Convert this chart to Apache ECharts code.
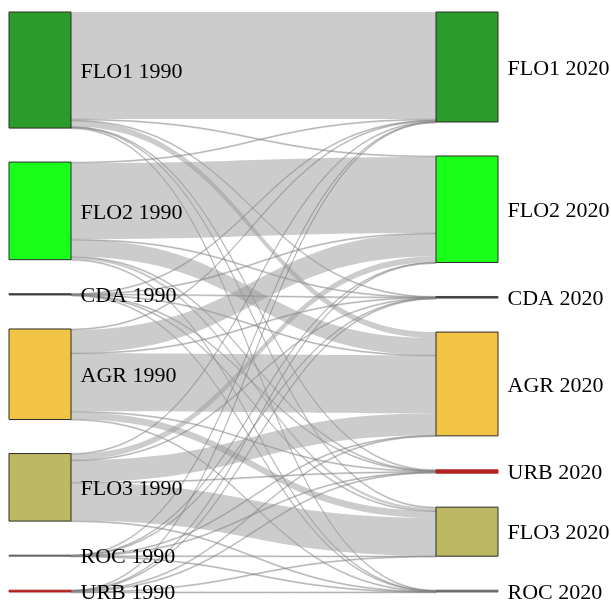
<!DOCTYPE html>
<html>
<head>
<meta charset="utf-8">
<script src="https://cdn.jsdelivr.net/npm/echarts@6/dist/echarts.min.js"></script>
<style>
html,body{margin:0;padding:0;background:#fff;}
#chart{width:611px;height:604px;}
</style>
</head>
<body>
<div id="chart"></div>
<script>
// Node names
const nodes1990 = ['FLO1 1990', 'FLO2 1990', 'CDA 1990', 'AGR 1990', 'FLO3 1990', 'ROC 1990', 'URB 1990'];
const nodes2020 = ['FLO1 2020', 'FLO2 2020', 'CDA 2020', 'AGR 2020', 'URB 2020', 'FLO3 2020', 'ROC 2020'];
// Flows from each 1990 class to the 2020 classes (order of nodes2020)
const fromFLO1 = [107, 1, 0.3, 6, 0.4, 1, 0.3];
const fromFLO2 = [1, 76, 0.3, 17, 0.4, 2.5, 0.3];
const fromCDA  = [0.2, 0.2, 0.3, 0.2, 0.1, 0.2, 0.1];
const fromAGR  = [1, 23, 0.3, 58, 0.8, 7, 0.4];
const fromFLO3 = [0.5, 6, 0.2, 22, 0.5, 38, 0.3];
const fromROC  = [0.1, 0.1, 0.1, 0.2, 0.1, 0.2, 0.3];
const fromURB  = [0.1, 0.1, 0.1, 0.3, 1.0, 0.1, 0.1];
const flows = [fromFLO1, fromFLO2, fromCDA, fromAGR, fromFLO3, fromROC, fromURB];

const classColors = {
  FLO1: '#2b9c2b', FLO2: '#1aff1a', CDA: '#444444', AGR: '#f2c444',
  FLO3: '#bdb862', ROC: '#6a6a6a', URB: '#b22222'
};
const thinClasses = ['CDA', 'ROC', 'URB'];

function nodeItem(name) {
  const cls = name.split(' ')[0];
  const c = classColors[cls];
  const thin = thinClasses.indexOf(cls) >= 0;
  return {
    name: name,
    itemStyle: { color: c, borderColor: thin ? c : '#2a2a2a', borderWidth: 1 }
  };
}

const data = nodes1990.map(nodeItem).concat(nodes2020.map(nodeItem));
const links = [];
flows.forEach(function (row, i) {
  row.forEach(function (v, j) {
    const l = { source: nodes1990[i], target: nodes2020[j], value: v };
    if (v < 2) {
      l.lineStyle = { borderColor: 'rgba(110,110,110,0.8)', borderWidth: 0.7 };
    }
    links.push(l);
  });
});

const chart = echarts.init(document.getElementById('chart'), null, { renderer: 'canvas' });
chart.setOption({
  animation: false,
  backgroundColor: '#ffffff',
  series: [{
    type: 'sankey',
    left: 9,
    right: 113,
    top: 12,
    bottom: 12,
    nodeWidth: 62,
    nodeGap: 34,
    layoutIterations: 0,
    draggable: false,
    emphasis: { disabled: true },
    data: data,
    links: links,
    label: {
      show: true,
      position: 'right',
      distance: 9,
      offset: [0, 2],
      color: '#000',
      fontFamily: '"Liberation Serif", "Times New Roman", serif',
      fontSize: 22
    },
    lineStyle: {
      color: '#999999',
      opacity: 0.5,
      curveness: 0.5
    }
  }]
});
</script>
</body>
</html>
